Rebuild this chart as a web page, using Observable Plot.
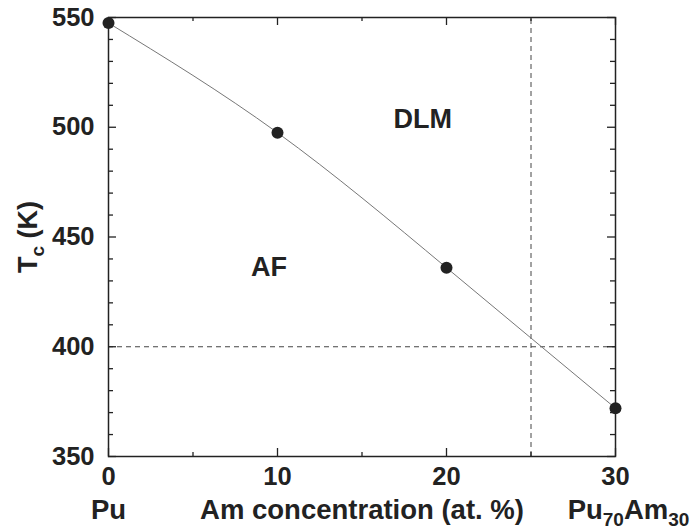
<!DOCTYPE html>
<html><head><meta charset="utf-8">
<script src="https://cdn.jsdelivr.net/npm/d3@7"></script>
<script src="https://cdn.jsdelivr.net/npm/@observablehq/plot@0.6"></script>
<style>body{margin:0;background:#fff}</style>
</head><body><div id="chart"></div>
<script>
// Data
const concentration = [0, 10, 20, 30];
const tc = [547.5, 497.5, 436, 372];
const xMajor = [0, 10, 20, 30];
const xMinor = [5, 15, 25];
const yMajor = [350, 400, 450, 500, 550];
const yMinor = d3.range(350, 551, 10).filter(v => v % 50 !== 0);
const phaseNames = ["DLM", "AF"];
const phaseX = [18.6, 9.5];
const phaseY = [503.5, 436];
const boundaryTc = [400];
const boundaryConc = [25];
const bottomLabels = ["Pu", "Am concentration (at. %)", "Pu_70Am_30"];
const bottomX = [0, 15, 30];
const yLabel = "T_c (K)";

const points = concentration.map((c, i) => ({c, t: tc[i]}));
const phases = phaseNames.map((n, i) => ({n, x: phaseX[i], y: phaseY[i]}));
const bottoms = bottomLabels.map((n, i) => ({n, x: bottomX[i]}));

const W = 691, H = 531, ML = 108, MR = 76, MT = 17, MB = 75;
const FW = W - ML - MR, FH = H - MT - MB;
const ink = "#222";
const tk = {stroke: ink, strokeWidth: 1.3};

const chart = Plot.plot({
  width: W,
  height: H,
  marginLeft: ML,
  marginRight: MR,
  marginTop: MT,
  marginBottom: MB,
  style: {fontFamily: "'Liberation Sans', Arial, Helvetica, sans-serif", color: ink, background: "#fff"},
  x: {domain: [0, 30]},
  y: {domain: [350, 550]},
  marks: [
    Plot.ruleY(boundaryTc, {x1: 0, x2: 30, stroke: "#444", strokeWidth: 1, strokeDasharray: "5,4"}),
    Plot.ruleX(boundaryConc, {y1: 350, y2: 550, stroke: "#444", strokeWidth: 1, strokeDasharray: "5,4"}),
    Plot.line(points, {x: "c", y: "t", curve: "natural", stroke: "#777", strokeWidth: 1}),
    Plot.dot(points, {x: "c", y: "t", r: 6, fill: ink, stroke: "none"}),
    Plot.frame({stroke: ink, strokeWidth: 1.5}),
    // inward ticks on all four sides
    Plot.tickX(xMajor, {x: d => d, insetTop: FH - 8, ...tk}),
    Plot.tickX(xMinor, {x: d => d, insetTop: FH - 4, ...tk}),
    Plot.tickX(xMajor, {x: d => d, insetBottom: FH - 8, ...tk}),
    Plot.tickX(xMinor, {x: d => d, insetBottom: FH - 4, ...tk}),
    Plot.tickY(yMajor, {y: d => d, insetRight: FW - 8, ...tk}),
    Plot.tickY(yMinor, {y: d => d, insetRight: FW - 5, ...tk}),
    Plot.tickY(yMajor, {y: d => d, insetLeft: FW - 8, ...tk}),
    Plot.tickY(yMinor, {y: d => d, insetLeft: FW - 5, ...tk}),
    // tick labels
    Plot.axisX({ticks: xMajor, anchor: "bottom", tickSize: 0, tickPadding: 10, fontSize: 25.5, fontWeight: "bold", label: null, fill: ink}),
    Plot.axisY({ticks: yMajor, anchor: "left", tickSize: 0, tickPadding: 14, fontSize: 25.5, fontWeight: "bold", label: null, fill: ink}),
    // phase labels
    Plot.text(phases, {x: "x", y: "y", text: "n", fontSize: 27, fontWeight: "bold", fill: ink}),
    // bottom labels
    Plot.text(bottoms, {x: "x", text: "n", frameAnchor: "bottom", lineAnchor: "bottom", textAnchor: "middle", dy: 62,
      fontSize: 27.5, fontWeight: "bold", fill: ink, className: "sublabel"}),
    Plot.text([yLabel], {frameAnchor: "left", y: 450, dx: -80, rotate: -90, text: d => d, textAnchor: "middle", lineAnchor: "middle",
      fontSize: 27, fontWeight: "bold", fill: ink, className: "sublabel"})
  ]
});

// render subscripts as tspans
d3.select(chart).selectAll(".sublabel text").each(function() {
  const el = d3.select(this);
  const s = el.text();
  if (!s.includes("_")) return;
  el.text(null);
  const parts = s.split(/(_[0-9a-z]+)/).filter(p => p.length);
  let prevSub = false;
  parts.forEach(p => {
    if (p.startsWith("_")) {
      el.append("tspan").attr("font-size", 19).attr("dy", 7).text(p.slice(1));
      prevSub = true;
    } else {
      el.append("tspan").attr("dy", prevSub ? -7 : null).text(p);
      prevSub = false;
    }
  });
});
// shift Pu70Am30 to match reference placement
d3.select(chart).selectAll(".sublabel text").filter(function(){ return this.textContent.startsWith("Pu70"); })
  .attr("dx", 13);

document.getElementById("chart").append(chart);
</script>
</body></html>
